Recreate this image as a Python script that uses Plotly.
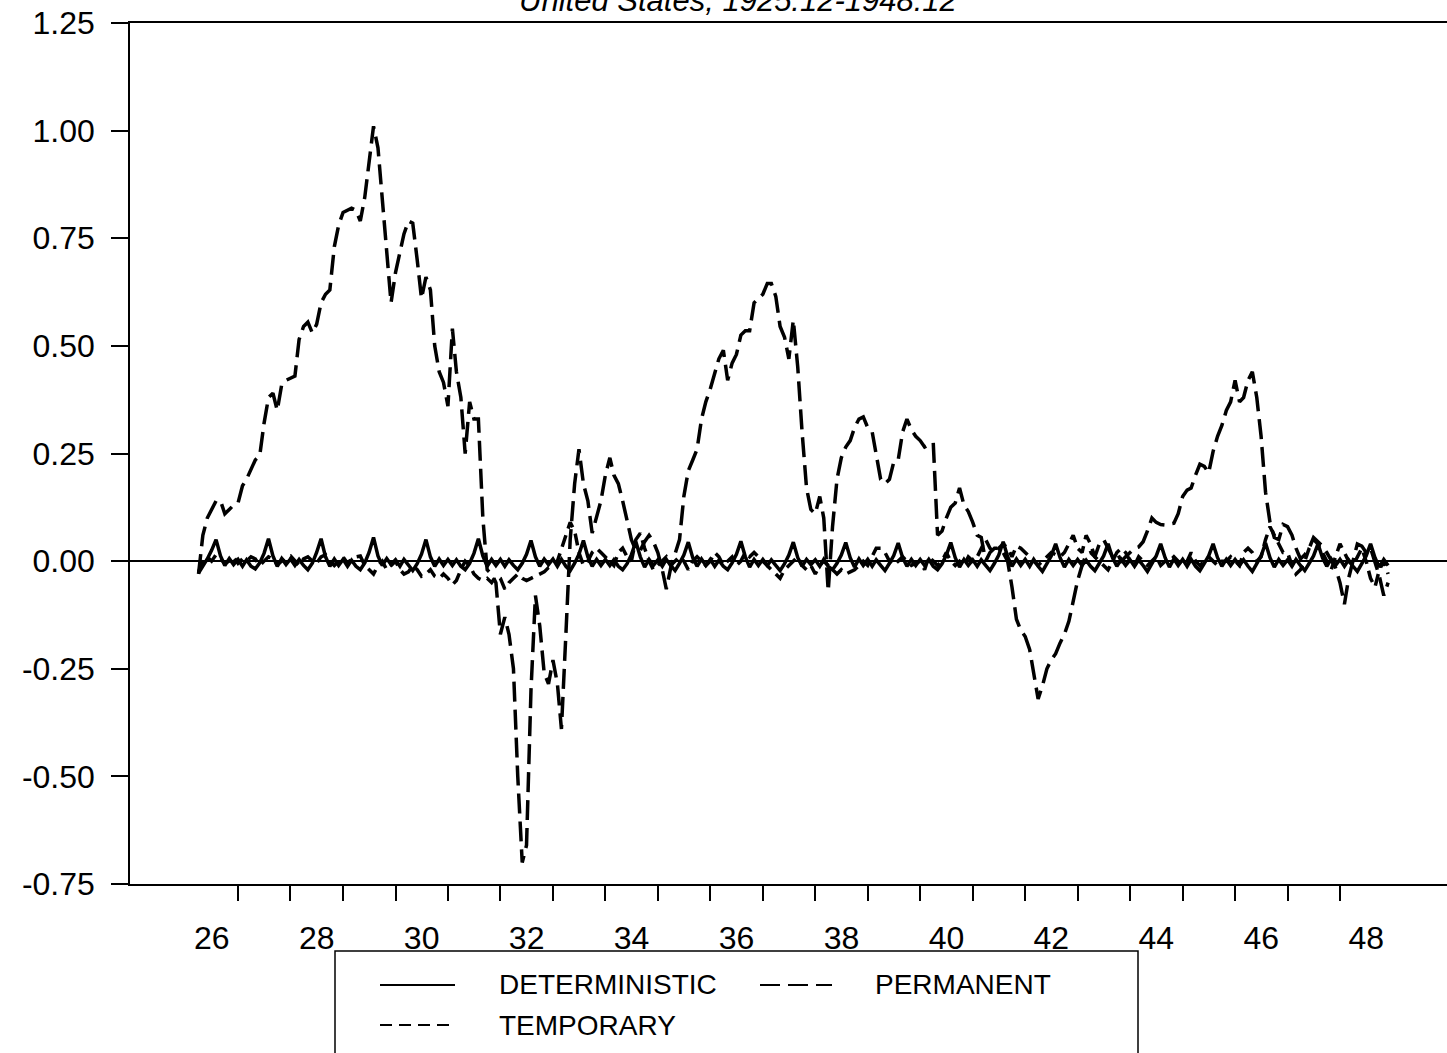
import pandas as pd
import plotly.graph_objects as go

# Monthly observations 1926:04 .. 1948:12 (one row per calendar year)
months = pd.date_range("1926-04-01", "1948-12-01", freq="MS")

deterministic = [
    -0.028, -0.012, 0.005, 0.025, 0.050, 0.012, -0.010, 0.006, -0.008,                      # 1926 (Apr-Dec)
    0.004, -0.012, 0.003, -0.012, -0.018, -0.004, 0.018, 0.052, 0.012, -0.012, 0.006, -0.008,  # 1927
    0.005, -0.010, 0.004, -0.010, -0.020, -0.005, 0.020, 0.052, 0.010, -0.012, 0.005, -0.010,  # 1928
    0.004, -0.012, 0.002, -0.012, -0.020, -0.004, 0.020, 0.055, 0.012, -0.010, 0.006, -0.008,  # 1929
    0.003, -0.012, 0.004, -0.010, -0.022, -0.006, 0.016, 0.050, 0.010, -0.012, 0.005, -0.010,  # 1930
    0.004, -0.010, 0.003, -0.012, -0.020, -0.005, 0.018, 0.052, 0.012, -0.012, 0.004, -0.010,  # 1931
    0.004, -0.012, 0.003, -0.010, -0.020, -0.005, 0.016, 0.048, 0.010, -0.012, 0.005, -0.008,  # 1932
    0.005, -0.012, 0.004, -0.012, -0.022, -0.005, 0.016, 0.048, 0.010, -0.012, 0.004, -0.010,  # 1933
    0.004, -0.010, 0.003, -0.012, -0.020, -0.006, 0.015, 0.045, 0.010, -0.014, 0.004, -0.010,  # 1934
    0.003, -0.012, 0.004, -0.010, -0.022, -0.005, 0.014, 0.044, 0.008, -0.012, 0.005, -0.010,  # 1935
    0.004, -0.012, 0.002, -0.012, -0.020, -0.004, 0.016, 0.046, 0.010, -0.014, 0.004, -0.010,  # 1936
    0.004, -0.010, 0.003, -0.010, -0.022, -0.006, 0.014, 0.044, 0.008, -0.012, 0.004, -0.008,  # 1937
    0.003, -0.012, 0.004, -0.012, -0.020, -0.005, 0.014, 0.043, 0.008, -0.014, 0.005, -0.010,  # 1938
    0.004, -0.012, 0.003, -0.010, -0.022, -0.005, 0.013, 0.042, 0.008, -0.012, 0.004, -0.010,  # 1939
    0.004, -0.010, 0.004, -0.012, -0.020, -0.006, 0.014, 0.043, 0.008, -0.014, 0.004, -0.010,  # 1940
    0.003, -0.012, 0.003, -0.010, -0.022, -0.005, 0.014, 0.045, 0.010, -0.012, 0.005, -0.010,  # 1941
    0.004, -0.012, 0.004, -0.012, -0.024, -0.006, 0.012, 0.040, 0.008, -0.014, 0.004, -0.010,  # 1942
    0.004, -0.010, 0.002, -0.012, -0.022, -0.005, 0.012, 0.040, 0.008, -0.012, 0.004, -0.010,  # 1943
    0.003, -0.012, 0.003, -0.010, -0.024, -0.006, 0.012, 0.040, 0.008, -0.014, 0.005, -0.010,  # 1944
    0.004, -0.012, 0.004, -0.012, -0.022, -0.005, 0.012, 0.040, 0.008, -0.012, 0.004, -0.010,  # 1945
    0.004, -0.010, 0.003, -0.012, -0.024, -0.006, 0.012, 0.042, 0.008, -0.014, 0.004, -0.010,  # 1946
    0.003, -0.012, 0.004, -0.010, -0.022, -0.005, 0.012, 0.040, 0.008, -0.012, 0.005, -0.010,  # 1947
    0.004, -0.012, 0.003, -0.012, -0.024, -0.006, 0.012, 0.040, 0.008, -0.014, 0.004, -0.010,  # 1948
]

permanent = [
    -0.030, 0.060, 0.100, 0.120, 0.140, 0.140, 0.110, 0.120, 0.130,                          # 1926 (Apr-Dec)
    0.135, 0.175, 0.190, 0.215, 0.235, 0.245, 0.320, 0.380, 0.390, 0.350, 0.410, 0.420,      # 1927
    0.425, 0.430, 0.515, 0.545, 0.555, 0.530, 0.550, 0.600, 0.620, 0.630, 0.730, 0.780,      # 1928
    0.810, 0.815, 0.820, 0.815, 0.790, 0.845, 0.920, 1.010, 0.960, 0.840, 0.700, 0.600,      # 1929
    0.670, 0.720, 0.760, 0.790, 0.785, 0.700, 0.610, 0.660, 0.630, 0.500, 0.440, 0.415,      # 1930
    0.360, 0.540, 0.440, 0.380, 0.250, 0.370, 0.330, 0.330, 0.100, -0.020, -0.030, -0.050,   # 1931
    -0.170, -0.130, -0.170, -0.250, -0.500, -0.700, -0.660, -0.300, -0.080, -0.150, -0.260, -0.285,  # 1932
    -0.230, -0.285, -0.390, -0.170, 0.050, 0.180, 0.260, 0.180, 0.140, 0.065, 0.100, 0.140,  # 1933
    0.200, 0.240, 0.200, 0.180, 0.140, 0.095, 0.050, 0.025, 0.025, 0.045, 0.060, 0.045,      # 1934
    0.020, -0.020, -0.065, -0.015, 0.020, 0.050, 0.150, 0.210, 0.235, 0.260, 0.330, 0.370,   # 1935
    0.400, 0.435, 0.470, 0.490, 0.420, 0.460, 0.480, 0.525, 0.535, 0.535, 0.600, 0.610,      # 1936
    0.620, 0.645, 0.645, 0.615, 0.545, 0.520, 0.470, 0.560, 0.450, 0.300, 0.170, 0.120,      # 1937
    0.110, 0.150, 0.100, -0.070, 0.080, 0.190, 0.240, 0.265, 0.280, 0.310, 0.330, 0.335,     # 1938
    0.310, 0.300, 0.250, 0.190, 0.180, 0.190, 0.230, 0.235, 0.300, 0.330, 0.305, 0.290,      # 1939
    0.280, 0.265, 0.270, 0.275, 0.060, 0.070, 0.100, 0.125, 0.135, 0.170, 0.130, 0.115,      # 1940
    0.090, 0.060, 0.055, 0.000, 0.020, 0.030, 0.030, 0.020, 0.000, -0.060, -0.135, -0.160,   # 1941
    -0.175, -0.205, -0.260, -0.320, -0.290, -0.250, -0.230, -0.215, -0.190, -0.170, -0.140, -0.090,  # 1942
    -0.045, -0.010, 0.015, 0.020, 0.010, 0.040, 0.050, 0.030, 0.010, 0.020, 0.000, 0.010,    # 1943
    0.020, 0.030, 0.033, 0.045, 0.070, 0.100, 0.090, 0.085, 0.084, 0.085, 0.088, 0.110,      # 1944
    0.150, 0.165, 0.170, 0.200, 0.225, 0.220, 0.205, 0.255, 0.290, 0.315, 0.350, 0.370,      # 1945
    0.420, 0.370, 0.380, 0.420, 0.440, 0.380, 0.290, 0.160, 0.090, 0.055, 0.050, 0.085,      # 1946
    0.080, 0.060, 0.030, 0.005, 0.015, 0.030, 0.055, 0.045, 0.035, 0.020, 0.000, -0.015,     # 1947
    -0.050, -0.100, -0.040, 0.000, 0.040, 0.035, 0.020, 0.030, 0.000, -0.035, -0.080, -0.050,  # 1948
]

temporary = [
    -0.025, 0.000, 0.010, 0.000, 0.015, 0.005, -0.005, 0.000, 0.010,                          # 1926 (Apr-Dec)
    -0.005, 0.005, 0.000, 0.010, 0.005, -0.010, 0.000, 0.010, 0.005, -0.008, 0.000, 0.010,   # 1927
    0.012, 0.000, -0.010, 0.005, 0.010, 0.000, -0.005, 0.010, 0.015, 0.000, -0.010, 0.000,   # 1928
    0.010, -0.005, 0.005, 0.010, 0.012, -0.010, -0.020, -0.030, -0.010, 0.000, -0.020, -0.010,  # 1929
    0.000, -0.020, -0.030, -0.025, -0.010, -0.020, -0.035, -0.030, -0.020, -0.035, -0.040, -0.030,  # 1930
    -0.040, -0.055, -0.045, -0.020, 0.000, -0.010, -0.030, -0.040, -0.045, -0.040, -0.050, -0.035,  # 1931
    -0.040, -0.065, -0.050, -0.040, -0.030, -0.040, -0.045, -0.040, -0.035, -0.030, -0.025, -0.015,  # 1932
    -0.010, 0.000, 0.030, 0.060, 0.090, 0.070, 0.020, -0.010, 0.000, 0.020, 0.030, 0.020,    # 1933
    0.010, 0.000, -0.010, 0.020, 0.030, 0.010, 0.000, 0.050, 0.065, 0.030, 0.000, -0.020,    # 1934
    -0.010, 0.000, 0.010, -0.010, 0.000, 0.010, 0.000, -0.020, 0.000, 0.010, 0.000, -0.010,  # 1935
    0.000, 0.020, 0.010, -0.010, 0.000, 0.010, -0.010, 0.000, 0.020, 0.010, 0.020, 0.010,    # 1936
    0.000, -0.010, -0.020, -0.030, -0.040, -0.020, -0.010, 0.000, 0.010, -0.010, -0.020, -0.010,  # 1937
    -0.030, -0.010, 0.000, -0.010, -0.020, -0.030, -0.020, -0.030, -0.025, -0.020, -0.010, 0.000,  # 1938
    -0.010, 0.010, 0.030, 0.030, 0.020, 0.000, -0.010, 0.000, 0.010, 0.000, -0.010, -0.005,  # 1939
    0.000, -0.020, 0.010, 0.000, -0.010, 0.000, 0.020, 0.000, -0.010, 0.000, -0.010, 0.010,  # 1940
    0.000, 0.010, 0.030, 0.050, 0.030, 0.020, 0.030, 0.040, 0.030, 0.010, 0.035, 0.030,      # 1941
    0.020, 0.010, 0.000, -0.010, 0.000, 0.010, 0.020, 0.015, 0.010, 0.020, 0.040, 0.060,     # 1942
    0.030, 0.020, 0.060, 0.040, 0.010, 0.000, -0.010, -0.020, 0.000, 0.020, 0.030, 0.020,    # 1943
    0.000, -0.010, 0.010, 0.000, -0.010, 0.000, 0.010, -0.010, 0.000, 0.000, 0.010, 0.000,   # 1944
    -0.010, 0.000, 0.020, 0.000, -0.010, 0.000, 0.010, 0.000, -0.010, 0.000, 0.000, 0.010,   # 1945
    0.000, -0.010, 0.020, 0.030, 0.020, 0.000, 0.010, 0.050, 0.080, 0.060, 0.040, 0.020,     # 1946
    0.020, -0.010, -0.030, -0.020, 0.000, 0.030, 0.050, 0.040, 0.020, 0.000, -0.020, 0.010,  # 1947
    0.040, 0.020, 0.000, -0.010, 0.010, 0.030, 0.000, -0.040, -0.060, -0.020, 0.000, -0.030,  # 1948
]

y_tick_values = [-0.75, -0.50, -0.25, 0.00, 0.25, 0.50, 0.75, 1.00, 1.25]
y_tick_labels = ["-0.75", "-0.50", "-0.25", "0.00", "0.25", "0.50", "0.75", "1.00", "1.25"]
x_label_years = [1926, 1928, 1930, 1932, 1934, 1936, 1938, 1940, 1942, 1944, 1946, 1948]
x_tick_labels = ["26", "28", "30", "32", "34", "36", "38", "40", "42", "44", "46", "48"]
x_tick_years = list(range(1927, 1949))

title_text = "United States, 1925:12-1948:12"
legend_names = ["DETERMINISTIC", "PERMANENT", "TEMPORARY"]

FONT = "Arial, 'Liberation Sans', sans-serif"
LW = 3.5

fig = go.Figure()
fig.add_trace(go.Scatter(x=months, y=deterministic, mode="lines", name=legend_names[0],
                         line=dict(color="black", width=LW), showlegend=False))
fig.add_trace(go.Scatter(x=months, y=permanent, mode="lines", name=legend_names[1],
                         line=dict(color="black", width=LW, dash="20px,8px"), showlegend=False))
fig.add_trace(go.Scatter(x=months, y=temporary, mode="lines", name=legend_names[2],
                         line=dict(color="black", width=LW, dash="12px,7px"), showlegend=False))

fig.update_layout(
    width=1447, height=1053,
    margin=dict(l=130, r=0, t=23, b=169, pad=0),
    paper_bgcolor="white", plot_bgcolor="white",
    font=dict(family=FONT, color="black"),
    title=dict(text="<i>" + title_text + "</i>", font=dict(family=FONT, size=31, color="black"),
               x=0.51, xref="container", xanchor="center", y=1.0, yref="container", yanchor="middle"),
    xaxis=dict(
        type="date", range=["1924-12-10", "1950-01-15"],
        tickmode="array",
        tickvals=[f"{y}-07-02" for y in x_label_years], ticktext=x_tick_labels,
        ticks="outside", ticklen=0, tickcolor="rgba(0,0,0,0)",
        ticklabelstandoff=25,
        tickfont=dict(family=FONT, size=32, color="black"),
        minor=dict(tickmode="array", tickvals=[f"{y}-01-01" for y in x_tick_years],
                   ticks="outside", ticklen=15, tickwidth=1.5, tickcolor="black", showgrid=False),
        showline=True, linecolor="black", linewidth=1.5, mirror=True,
        showgrid=False, zeroline=False,
    ),
    yaxis=dict(
        range=[-0.75, 1.25], tickmode="array", tickvals=y_tick_values, ticktext=y_tick_labels,
        ticks="outside", ticklen=17, tickwidth=1.5, tickcolor="black",
        ticklabelstandoff=10,
        tickfont=dict(family=FONT, size=32, color="black"),
        showline=True, linecolor="black", linewidth=1.5, mirror=False,
        showgrid=False, zeroline=True, zerolinecolor="black", zerolinewidth=1.5,
    ),
)

# Legend box drawn below the plot area (paper coordinates)
PLOT_L, PLOT_W, PLOT_B, PLOT_H = 130, 1317, 884, 861
def px_x(px):
    return (px - PLOT_L) / PLOT_W
def px_y(py):
    return (PLOT_B - py) / PLOT_H

fig.add_shape(type="rect", xref="paper", yref="paper",
              x0=px_x(335), x1=px_x(1138), y0=px_y(951), y1=px_y(1070),
              line=dict(color="black", width=1.5), layer="above")
legend_rows = [
    (legend_names[0], None, 380, 455, 497, 985),
    (legend_names[1], "20px,8px", 760, 832, 873, 985),
    (legend_names[2], "12px,7px", 380, 455, 497, 1025),
]
for name, dash, lx0, lx1, tx, ty in legend_rows:
    line = dict(color="black", width=2)
    if dash:
        line["dash"] = dash
    fig.add_shape(type="line", xref="paper", yref="paper",
                  x0=px_x(lx0), x1=px_x(lx1), y0=px_y(ty), y1=px_y(ty), line=line)
    fig.add_annotation(text=name, xref="paper", yref="paper", x=px_x(tx), y=px_y(ty),
                       xanchor="left", yanchor="middle", showarrow=False,
                       font=dict(family=FONT, size=28, color="black"))

fig.write_html("out.html", config={"displayModeBar": False},
               post_script="document.body.style.margin='0';")
